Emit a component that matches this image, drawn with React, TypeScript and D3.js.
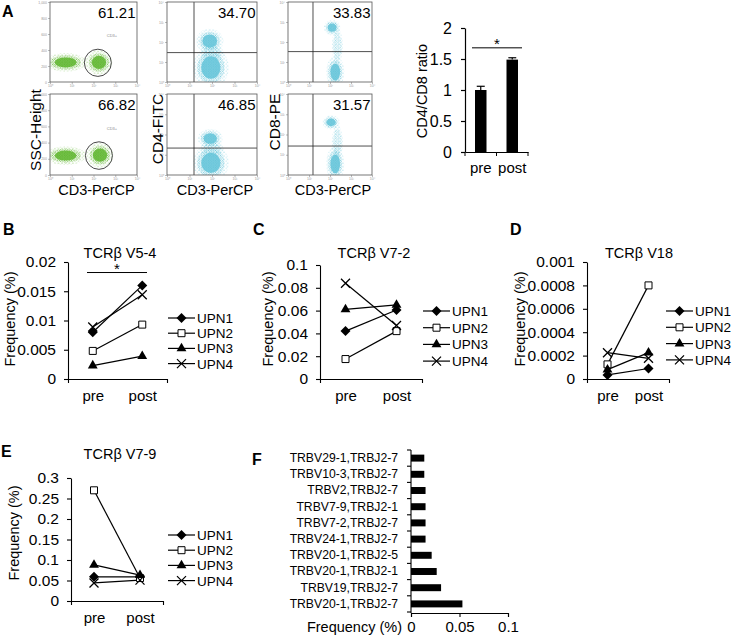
import React, { useEffect, useRef } from "react";
import * as d3 from "d3";

const FONT = "'Liberation Sans', Arial, Helvetica, sans-serif";

// ---------- panel A: flow cytometry ----------
const flowPercent = [
  ["61.21", "34.70", "33.83"],
  ["66.82", "46.85", "31.57"],
];
const flowYLabels = ["SSC-Height", "CD4-FITC", "CD8-PE"];
const flowXLabel = "CD3-PerCP";
// clusters: [log10 CD3, y value, spread x, spread y, dense(1) / sparse(0)]
const sscClusters = [
  [[0.72, 245, 0.64, 80, 1], [2.25, 245, 0.42, 105, 1]],
  [[0.72, 240, 0.64, 80, 1], [2.3, 245, 0.42, 105, 1]],
];
const sscGates = [[2.2, 240, 0.62, 170], [2.25, 240, 0.62, 170]];
const cd4Clusters = [
  [[1.9, 2.05, 0.42, 0.42, 1], [1.95, 0.72, 0.55, 0.72, 1], [2.0, 1.45, 0.35, 0.3, 0]],
  [[1.92, 1.8, 0.38, 0.33, 1], [1.95, 0.6, 0.55, 0.64, 1], [2.0, 1.3, 0.35, 0.3, 0]],
];
const cd4Gates = [[1.2, 1.47], [1.2, 1.33]];
const cd8Clusters = [
  [[2.1, 2.72, 0.27, 0.27, 1], [2.35, 1.8, 0.18, 0.6, 0], [2.25, 0.5, 0.3, 0.55, 1]],
  [[2.05, 2.6, 0.28, 0.24, 1], [2.35, 1.6, 0.18, 0.6, 0], [2.25, 0.55, 0.3, 0.6, 1]],
];
const cd8Gates = [[1.19, 1.52], [1.19, 1.43]];

// ---------- panel A: ratio bars ----------
const ratioGroups = ["pre", "post"];
const ratioMeans = [1.0, 1.49];
const ratioErrors = [0.06, 0.03];
const ratioTicks = [0, 0.5, 1, 1.5, 2];
const ratioTickLabels = ["0", "0.5", "1", "1.5", "2"];

// ---------- panels B-E ----------
const timepoints = ["pre", "post"];
const patients = ["UPN1", "UPN2", "UPN3", "UPN4"];
const markerKinds = ["diamond", "square", "triangle", "cross"];

const v54 = [[0.008, 0.016], [0.0048, 0.0093], [0.0023, 0.0039], [0.0089, 0.0144]];
const v54Ticks = [0, 0.005, 0.01, 0.015, 0.02];
const v54Labels = ["0", "0.005", "0.01", "0.015", "0.02"];

const v72 = [[0.042, 0.0605], [0.0175, 0.042], [0.061, 0.065], [0.084, 0.047]];
const v72Ticks = [0, 0.02, 0.04, 0.06, 0.08, 0.1];
const v72Labels = ["0", "0.02", "0.04", "0.06", "0.08", "0.1"];

const v18 = [[0.000035, 0.00009], [0.000125, 0.0008], [0.00008, 0.000225], [0.000225, 0.000177]];
const v18Ticks = [0, 0.0002, 0.0004, 0.0006, 0.0008, 0.001];
const v18Labels = ["0", "0.0002", "0.0004", "0.0006", "0.0008", "0.001"];

const v79 = [[0.059, 0.059], [0.27, 0.056], [0.088, 0.063], [0.044, 0.051]];
const v79Ticks = [0, 0.05, 0.1, 0.15, 0.2, 0.25, 0.3];
const v79Labels = ["0", "0.05", "0.1", "0.15", "0.2", "0.25", "0.3"];

// ---------- panel F ----------
const cloneNames = [
  "TRBV29-1,TRBJ2-7",
  "TRBV10-3,TRBJ2-7",
  "TRBV2,TRBJ2-7",
  "TRBV7-9,TRBJ2-1",
  "TRBV7-2,TRBJ2-7",
  "TRBV24-1,TRBJ2-7",
  "TRBV20-1,TRBJ2-5",
  "TRBV20-1,TRBJ2-1",
  "TRBV19,TRBJ2-7",
  "TRBV20-1,TRBJ2-7",
];
const cloneFreq = [0.0137, 0.0137, 0.015, 0.015, 0.015, 0.015, 0.0213, 0.0265, 0.031, 0.053];
const cloneTicks = [0, 0.05, 0.1];
const cloneTickLabels = ["0", "0.05", "0.1"];

const GREEN = "#5db52c";
const CYAN = "#62c3d8";
const TICK_FONT = 15.5;

function text(g: any, x: number, y: number, s: string, size = 14, anchor = "start", weight = "normal") {
  return g
    .append("text")
    .attr("x", x)
    .attr("y", y)
    .attr("font-family", FONT)
    .attr("font-size", size)
    .attr("font-weight", weight)
    .attr("text-anchor", anchor)
    .attr("fill", "#000")
    .text(s);
}

function vtext(g: any, x: number, y: number, s: string, size = 14) {
  return g
    .append("text")
    .attr("transform", `translate(${x},${y}) rotate(-90)`)
    .attr("dy", "0.35em")
    .attr("font-family", FONT)
    .attr("font-size", size)
    .attr("text-anchor", "middle")
    .text(s);
}

function marker(g: any, kind: string, cx: number, cy: number) {
  const m = g.append("g").attr("transform", `translate(${cx},${cy})`);
  if (kind === "diamond") {
    m.append("path").attr("d", d3.symbol(d3.symbolSquare, 50)()).attr("transform", "rotate(45)").attr("fill", "#000");
  } else if (kind === "square") {
    m.append("path").attr("d", d3.symbol(d3.symbolSquare, 49)()).attr("fill", "#fff").attr("stroke", "#000").attr("stroke-width", 1);
  } else if (kind === "triangle") {
    m.append("path").attr("d", d3.symbol(d3.symbolTriangle, 42)()).attr("fill", "#000");
  } else {
    m.append("path").attr("d", "M-4.5,-4.5L4.5,4.5M-4.5,4.5L4.5,-4.5").attr("stroke", "#000").attr("stroke-width", 1.3);
  }
}

function drawFlow(svg: any, defs: any) {
  const cols = [
    { left: 50, right: 137 },
    { left: 167, right: 257 },
    { left: 288, right: 372 },
  ];
  const rows = [
    { top: 2, bottom: 82 },
    { top: 94, bottom: 175 },
  ];
  [["pg", GREEN, 2.4], ["pc", CYAN, 2.4], ["sg", GREEN, 3.6], ["sc", CYAN, 3.6]].forEach(([id, c, s]: any) => {
    const p = defs.append("pattern").attr("id", id).attr("width", s).attr("height", s).attr("patternUnits", "userSpaceOnUse");
    p.append("circle").attr("cx", s * 0.25).attr("cy", s * 0.3).attr("r", 0.55).attr("fill", c);
    p.append("circle").attr("cx", s * 0.8).attr("cy", s * 0.75).attr("r", 0.5).attr("fill", c);
  });
  const sup = ["\u2070", "\u00b9", "\u00b2", "\u00b3", "\u2074"];

  rows.forEach((r, ri) => {
    cols.forEach((c, ci) => {
      const g = svg.append("g");
      const x = d3.scaleLinear().domain([0, 4]).range([c.left, c.right]);
      const y = ci === 0
        ? d3.scaleLinear().domain([0, 1000]).range([r.bottom, r.top])
        : d3.scaleLinear().domain([0, 4]).range([r.bottom, r.top]);
      const clusters = ci === 0 ? sscClusters[ri] : ci === 1 ? cd4Clusters[ri] : cd8Clusters[ri];
      const color = ci === 0 ? GREEN : CYAN;
      const pat = ci === 0 ? "url(#pg)" : "url(#pc)";
      const sparse = ci === 0 ? "url(#sg)" : "url(#sc)";
      const clipId = `clip${ri}${ci}`;
      defs.append("clipPath").attr("id", clipId).append("rect")
        .attr("x", c.left).attr("y", r.top).attr("width", c.right - c.left).attr("height", r.bottom - r.top);
      const cg = g.append("g").attr("clip-path", `url(#${clipId})`);
      clusters.forEach((k) => {
        const cx = x(k[0]);
        const cy = y(k[1]);
        const rx = x(k[0] + k[2]) - cx;
        const ry = Math.abs(y(k[1] + k[3]) - cy);
        cg.append("ellipse").attr("cx", cx).attr("cy", cy).attr("rx", rx * 1.45).attr("ry", ry * 1.45).attr("fill", sparse).attr("opacity", 0.7);
        cg.append("ellipse").attr("cx", cx).attr("cy", cy).attr("rx", rx * 1.1).attr("ry", ry * 1.1).attr("fill", pat).attr("opacity", k[4] ? 1 : 0.6);
        if (k[4]) {
          cg.append("ellipse").attr("cx", cx).attr("cy", cy).attr("rx", rx * 0.78).attr("ry", ry * 0.78).attr("fill", color).attr("opacity", 0.85);
        }
      });
      // gates
      if (ci === 0) {
        const gt = sscGates[ri];
        g.append("ellipse").attr("cx", x(gt[0])).attr("cy", y(gt[1]))
          .attr("rx", x(gt[0] + gt[2]) - x(gt[0])).attr("ry", Math.abs(y(gt[1] + gt[3]) - y(gt[1])))
          .attr("fill", "none").attr("stroke", "#333").attr("stroke-width", 0.9);
        g.append("text").attr("x", x(2.85)).attr("y", y(560)).attr("font-family", FONT).attr("font-size", 4)
          .attr("fill", "#888").attr("text-anchor", "middle").text("CD3+");
      } else {
        const gt = ci === 1 ? cd4Gates[ri] : cd8Gates[ri];
        g.append("line").attr("x1", x(gt[0])).attr("x2", x(gt[0])).attr("y1", r.top).attr("y2", r.bottom).attr("stroke", "#222").attr("stroke-width", 0.8);
        g.append("line").attr("x1", c.left).attr("x2", c.right).attr("y1", y(gt[1])).attr("y2", y(gt[1])).attr("stroke", "#222").attr("stroke-width", 0.8);
      }
      // box + tiny axes
      g.append("rect").attr("x", c.left).attr("y", r.top).attr("width", c.right - c.left).attr("height", r.bottom - r.top)
        .attr("fill", "none").attr("stroke", "#555").attr("stroke-width", 0.8);
      const ax = g.append("g").attr("transform", `translate(0,${r.bottom})`)
        .call(d3.axisBottom(x).tickValues([0, 1, 2, 3, 4]).tickSize(2).tickPadding(1).tickFormat((d: any) => "10" + sup[d]));
      const ay = g.append("g").attr("transform", `translate(${c.left},0)`)
        .call(ci === 0
          ? d3.axisLeft(y).tickValues([0, 200, 400, 600, 800, 1000]).tickSize(2).tickPadding(1)
          : d3.axisLeft(y).tickValues([0, 1, 2, 3, 4]).tickSize(2).tickPadding(1).tickFormat((d: any) => "10" + sup[d]));
      [ax, ay].forEach((a: any) => {
        a.select(".domain").remove();
        a.selectAll("line").attr("stroke", "#777").attr("stroke-width", 0.5);
        a.selectAll("text").attr("font-size", 3.5).attr("fill", "#999").attr("font-family", FONT);
      });
      text(g, c.right - 1.5, r.top + 16, flowPercent[ri][ci], 15, "end");
    });
  });
  cols.forEach((c) => text(svg, (c.left + c.right) / 2 + 3, 195, flowXLabel, 14.5, "middle"));
  vtext(svg, 36, 130, flowYLabels[0], 15.5);
  vtext(svg, 158, 129, flowYLabels[1], 15.5);
  vtext(svg, 275, 122, flowYLabels[2], 15.5);
  text(svg, 2, 17, "A", 16, "start", "bold");
}

function drawRatio(svg: any) {
  const g = svg.append("g");
  const y = d3.scaleLinear().domain([0, 2]).range([152, 28]);
  const x = d3.scaleBand().domain(ratioGroups).range([465, 528]).paddingInner(0.635).paddingOuter(0.3175);
  ratioGroups.forEach((k, i) => {
    const cx = (x(k) as number) + x.bandwidth() / 2;
    g.append("rect").attr("x", x(k)).attr("y", y(ratioMeans[i])).attr("width", x.bandwidth())
      .attr("height", y(0) - y(ratioMeans[i])).attr("fill", "#000");
    const top = y(ratioMeans[i] + ratioErrors[i]);
    g.append("line").attr("x1", cx).attr("x2", cx).attr("y1", y(ratioMeans[i])).attr("y2", top).attr("stroke", "#000").attr("stroke-width", 1.2);
    g.append("line").attr("x1", cx - 4).attr("x2", cx + 4).attr("y1", top).attr("y2", top).attr("stroke", "#000").attr("stroke-width", 1.2);
  });
  const ay = g.append("g").attr("transform", "translate(465,0)")
    .call(d3.axisLeft(y).tickValues(ratioTicks).tickSize(4).tickSizeOuter(0).tickPadding(9).tickFormat((d: any, i: number) => ratioTickLabels[i]));
  ay.selectAll("text").attr("font-size", 16).attr("font-family", FONT);
  const ax = g.append("g").attr("transform", "translate(0,152)")
    .call(d3.axisBottom(x).tickSize(0).tickPadding(10));
  ax.selectAll("text").attr("font-size", 15).attr("font-family", FONT);
  [0, 1, 2].forEach((i) => {
    const tx = x.range()[0] + i * x.step();
    g.append("line").attr("x1", tx).attr("x2", tx).attr("y1", 152).attr("y2", 156).attr("stroke", "#000");
  });
  [ay, ax].forEach((a: any) => a.selectAll("line,path").attr("stroke-width", 1.2));
  // significance bracket
  g.append("line").attr("x1", 472).attr("x2", 522).attr("y1", y(1.68)).attr("y2", y(1.68)).attr("stroke", "#000").attr("stroke-width", 1);
  text(g, 497, y(1.68) + 1, "*", 15, "middle");
  vtext(g, 422, 91, "CD4/CD8 ratio", 14.5);
}

type Panel = {
  letter: string;
  letterX: number;
  letterY: number;
  title: string;
  titleX: number;
  titleY: number;
  x0: number;
  x1: number;
  yBottom: number;
  yTop: number;
  max: number;
  ticks: number[];
  tickLabels: string[];
  values: number[][];
  labelX: number;
  labelY: number;
  legendX: number;
  legendY: number;
  legendStep: number;
  sig?: number[];
};

function drawLinePanel(svg: any, p: Panel) {
  const g = svg.append("g");
  const x = d3.scalePoint().domain(timepoints).range([p.x0, p.x1]).padding(0.5);
  const y = d3.scaleLinear().domain([0, p.max]).range([p.yBottom, p.yTop]);
  const ay = g.append("g").attr("transform", `translate(${p.x0},0)`)
    .call(d3.axisLeft(y).tickValues(p.ticks).tickSize(4).tickSizeOuter(0).tickPadding(8).tickFormat((d: any, i: number) => p.tickLabels[i]));
  const ax = g.append("g").attr("transform", `translate(0,${p.yBottom})`)
    .call(d3.axisBottom(x).tickSizeInner(0).tickSizeOuter(4).tickPadding(11));
  ay.selectAll("text").attr("font-size", TICK_FONT).attr("font-family", FONT);
  ax.selectAll("text").attr("font-size", 15).attr("font-family", FONT);
  [ay, ax].forEach((a: any) => a.selectAll("line,path").attr("stroke-width", 1.1));
  const line = d3.line<number>().x((d, i) => x(timepoints[i]) as number).y((d) => y(d));
  p.values.forEach((vals) => {
    g.append("path").attr("d", line(vals)).attr("fill", "none").attr("stroke", "#000").attr("stroke-width", 1.2);
  });
  p.values.forEach((vals, si) => {
    vals.forEach((v, i) => marker(g, markerKinds[si], x(timepoints[i]) as number, y(v)));
  });
  // legend
  patients.forEach((name, si) => {
    const ly = p.legendY + si * p.legendStep;
    g.append("line").attr("x1", p.legendX).attr("x2", p.legendX + 27).attr("y1", ly).attr("y2", ly).attr("stroke", "#000").attr("stroke-width", 1.2);
    marker(g, markerKinds[si], p.legendX + 13.5, ly);
    text(g, p.legendX + 29, ly + 5, name, 13.5);
  });
  if (p.sig) {
    g.append("line").attr("x1", p.sig[0]).attr("x2", p.sig[1]).attr("y1", y(p.sig[2])).attr("y2", y(p.sig[2])).attr("stroke", "#000").attr("stroke-width", 1);
    text(g, (p.sig[0] + p.sig[1]) / 2, y(p.sig[2]) + 1.5, "*", 15, "middle");
  }
  text(g, p.titleX, p.titleY, p.title, 14.5, "middle");
  vtext(g, p.labelX, p.labelY, "Frequency (%)", 14.5);
  text(svg, p.letterX, p.letterY, p.letter, 16, "start", "bold");
}

function drawClones(svg: any) {
  const g = svg.append("g");
  const y = d3.scaleBand().domain(cloneNames).range([450, 612]).paddingInner(0.57).paddingOuter(0.285);
  const x = d3.scaleLinear().domain([0, 0.1]).range([411, 508]);
  cloneNames.forEach((n, i) => {
    g.append("rect").attr("x", x(0)).attr("y", y(n)).attr("width", x(cloneFreq[i]) - x(0)).attr("height", y.bandwidth()).attr("fill", "#000");
  });
  const ay = g.append("g").attr("transform", `translate(${x(0)},0)`).call(d3.axisLeft(y).tickSize(0).tickPadding(13));
  ay.select(".domain").remove();
  ay.selectAll("text").attr("font-size", 12.2).attr("font-family", FONT);
  g.append("line").attr("x1", x(0)).attr("x2", x(0)).attr("y1", 450).attr("y2", 613).attr("stroke", "#000").attr("stroke-width", 1.1);
  d3.range(cloneNames.length + 1).forEach((i) => {
    const ty = y.range()[0] + i * y.step();
    g.append("line").attr("x1", x(0) - 4).attr("x2", x(0)).attr("y1", ty).attr("y2", ty).attr("stroke", "#000").attr("stroke-width", 1.1);
  });
  const ax = g.append("g").attr("transform", "translate(0,613)")
    .call(d3.axisBottom(x).tickValues(cloneTicks).tickSize(4).tickSizeOuter(4).tickPadding(4).tickFormat((d: any, i: number) => cloneTickLabels[i]));
  ax.selectAll("text").attr("font-size", 15).attr("font-family", FONT);
  ax.selectAll("line,path").attr("stroke-width", 1.1);
  text(g, 402, 632, "Frequency (%)", 14.5, "end");
  text(svg, 252, 465, "F", 16, "start", "bold");
}

export default function App() {
  const ref = useRef<SVGSVGElement>(null);

  useEffect(() => {
    const svg = d3.select(ref.current);
    svg.selectAll("*").remove();
    const defs = svg.append("defs");
    drawFlow(svg, defs);
    drawRatio(svg);
    drawLinePanel(svg, {
      letter: "B", letterX: 3, letterY: 235, title: "TCR\u03b2 V5-4", titleX: 120, titleY: 258,
      x0: 68, x1: 167, yBottom: 379, yTop: 262, max: 0.02, ticks: v54Ticks, tickLabels: v54Labels,
      values: v54, labelX: 10, labelY: 319, legendX: 168, legendY: 318, legendStep: 15.2, sig: [87, 147, 0.0182],
    });
    drawLinePanel(svg, {
      letter: "C", letterX: 253, letterY: 235, title: "TCR\u03b2 V7-2", titleX: 374, titleY: 258,
      x0: 320, x1: 422, yBottom: 379, yTop: 265, max: 0.1, ticks: v72Ticks, tickLabels: v72Labels,
      values: v72, labelX: 268, labelY: 319, legendX: 423, legendY: 311, legendStep: 16.7,
    });
    drawLinePanel(svg, {
      letter: "D", letterX: 510, letterY: 235, title: "TCR\u03b2 V18", titleX: 639, titleY: 258,
      x0: 587, x1: 669, yBottom: 379, yTop: 262, max: 0.001, ticks: v18Ticks, tickLabels: v18Labels,
      values: v18, labelX: 520, labelY: 319, legendX: 666, legendY: 311, legendStep: 16.3,
    });
    drawLinePanel(svg, {
      letter: "E", letterX: 1, letterY: 457, title: "TCR\u03b2 V7-9", titleX: 120, titleY: 459,
      x0: 71, x1: 163, yBottom: 601, yTop: 478, max: 0.3, ticks: v79Ticks, tickLabels: v79Labels,
      values: v79, labelX: 14, labelY: 533, legendX: 168, legendY: 535, legendStep: 15.2,
    });
    drawClones(svg);
  }, []);

  return (
    <svg
      ref={ref}
      width={733}
      height={637}
      style={{ position: "fixed", left: 0, top: 0, background: "#fff" }}
    ></svg>
  );
}
